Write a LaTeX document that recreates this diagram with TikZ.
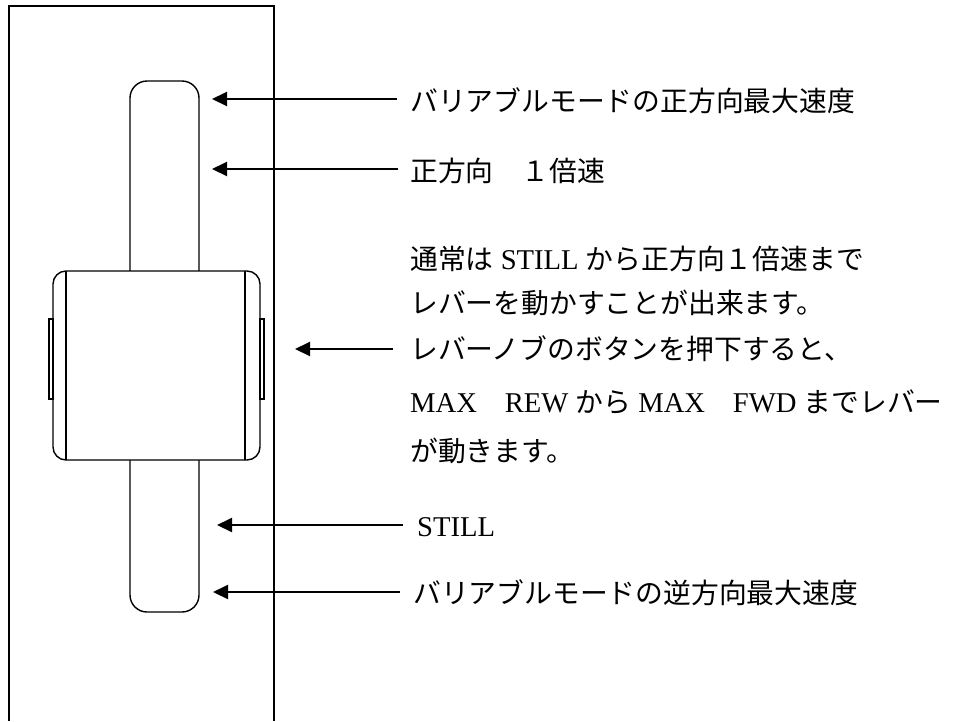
\documentclass[tikz,border=0pt]{standalone}
\usepackage{fontspec}
\setmainfont{Liberation Serif}[Scale=1.03]
\newfontfamily\jp{Noto Sans CJK JP}
\usetikzlibrary{arrows.meta}
\tikzset{
  frame/.style={line width=1.8pt},
  part/.style={line width=1.4pt},
  arr/.style={line width=2pt,-{Triangle[length=15pt,width=14pt]}},
  lbl/.style={anchor=west,inner sep=0pt,font=\fontsize{27.8}{30}\selectfont},
}
\begin{document}
\begin{tikzpicture}[x=1pt,y=-1pt]
\useasboundingbox (0,0) rectangle (955,721);
% frame (open at bottom)
\draw[frame] (9,721) -- (9,6) -- (274,6) -- (274,721);
% slot
\draw[part,rounded corners=17pt] (130,81) rectangle (199,612);
% knob
\filldraw[part,fill=white,rounded corners=13pt] (53,271) rectangle (260,460);
\draw[part] (66,271) -- (66,460);
\draw[part] (245,271) -- (245,460);
\draw[line width=1.1pt] (49,319) rectangle (53,399);
\draw[line width=1.1pt] (260,319) rectangle (264,399);
% tips
\coordinate (h1) at (212,99);
\coordinate (h2) at (212,169);
\coordinate (h3) at (295,349);
\coordinate (h4) at (217,525);
\coordinate (h5) at (213,592);
% tails
\coordinate (t1) at (397,99);
\coordinate (t2) at (398,169);
\coordinate (t3) at (393,349);
\coordinate (t4) at (403,525);
\coordinate (t5) at (400,592);
% labels
\node[lbl] (l1) at (410,101) {\jp バリアブルモードの正方向最大速度};
\node[lbl] (l2) at (410,171) {\jp 正方向　１倍速};
\node[lbl] (b1) at (410,259) {{\jp 通常は} STILL {\jp から正方向１倍速まで}};
\node[lbl] (b2) at (410,303) {\jp レバーを動かすことが出来ます。};
\node[lbl] (b3) at (410,349) {\jp レバーノブのボタンを押下すると、};
\node[lbl] (b4) at (410,402) {MAX{\jp 　}REW {\jp から} MAX{\jp 　}FWD {\jp までレバー}};
\node[lbl] (b5) at (410,451) {\jp が動きます。};
\node[lbl] (l4) at (417,527) {STILL};
\node[lbl] (l5) at (413,593) {\jp バリアブルモードの逆方向最大速度};
% arrows
\draw[arr] (t1) -- (h1);
\draw[arr] (t2) -- (h2);
\draw[arr] (t3) -- (h3);
\draw[arr] (t4) -- (h4);
\draw[arr] (t5) -- (h5);
\end{tikzpicture}
\end{document}
